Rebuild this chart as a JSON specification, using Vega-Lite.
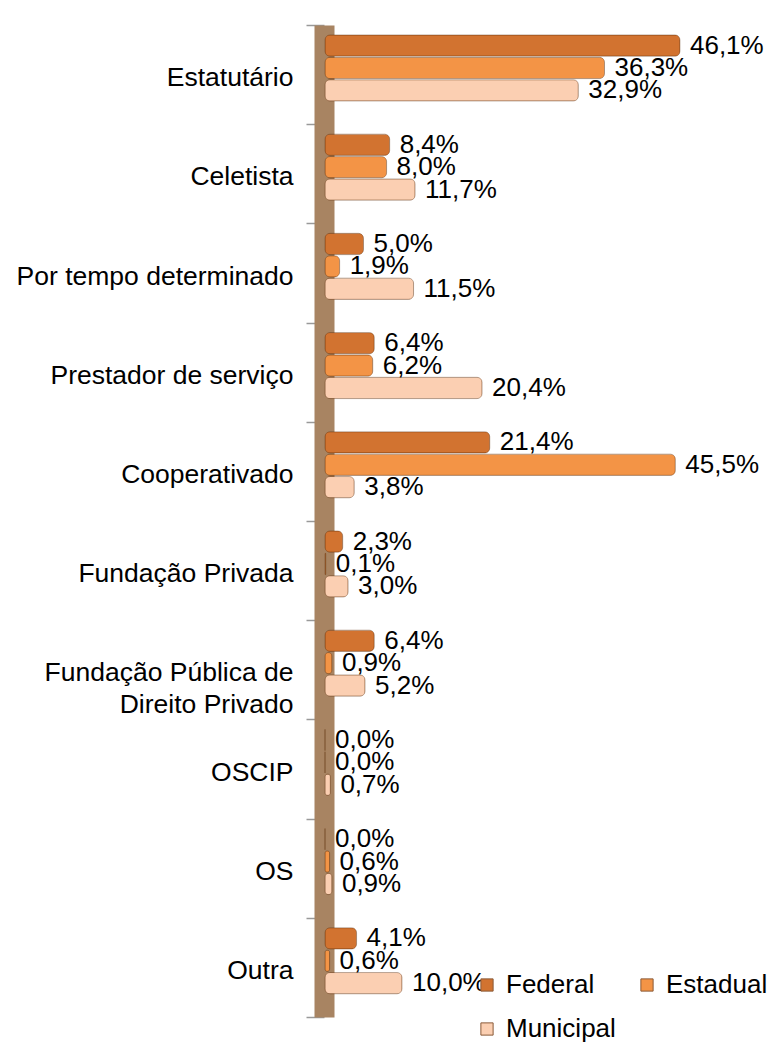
{
  "$schema": "https://vega.github.io/schema/vega-lite/v6.json",
  "width": 385,
  "height": 992,
  "autosize": {"type": "none"},
  "padding": {"left": 325, "top": 25, "right": 58, "bottom": 30},
  "background": "white",
  "config": {
    "view": {"stroke": null},
    "font": "Liberation Sans"
  },
  "data": {
    "values": [
      {"categoria": "Estatutário", "esfera": "Federal", "valor": 0.461},
      {"categoria": "Estatutário", "esfera": "Estadual", "valor": 0.363},
      {"categoria": "Estatutário", "esfera": "Municipal", "valor": 0.329},
      {"categoria": "Celetista", "esfera": "Federal", "valor": 0.084},
      {"categoria": "Celetista", "esfera": "Estadual", "valor": 0.080},
      {"categoria": "Celetista", "esfera": "Municipal", "valor": 0.117},
      {"categoria": "Por tempo determinado", "esfera": "Federal", "valor": 0.050},
      {"categoria": "Por tempo determinado", "esfera": "Estadual", "valor": 0.019},
      {"categoria": "Por tempo determinado", "esfera": "Municipal", "valor": 0.115},
      {"categoria": "Prestador de serviço", "esfera": "Federal", "valor": 0.064},
      {"categoria": "Prestador de serviço", "esfera": "Estadual", "valor": 0.062},
      {"categoria": "Prestador de serviço", "esfera": "Municipal", "valor": 0.204},
      {"categoria": "Cooperativado", "esfera": "Federal", "valor": 0.214},
      {"categoria": "Cooperativado", "esfera": "Estadual", "valor": 0.455},
      {"categoria": "Cooperativado", "esfera": "Municipal", "valor": 0.038},
      {"categoria": "Fundação Privada", "esfera": "Federal", "valor": 0.023},
      {"categoria": "Fundação Privada", "esfera": "Estadual", "valor": 0.001},
      {"categoria": "Fundação Privada", "esfera": "Municipal", "valor": 0.030},
      {"categoria": "Fundação Pública de Direito Privado", "esfera": "Federal", "valor": 0.064},
      {"categoria": "Fundação Pública de Direito Privado", "esfera": "Estadual", "valor": 0.009},
      {"categoria": "Fundação Pública de Direito Privado", "esfera": "Municipal", "valor": 0.052},
      {"categoria": "OSCIP", "esfera": "Federal", "valor": 0.000},
      {"categoria": "OSCIP", "esfera": "Estadual", "valor": 0.000},
      {"categoria": "OSCIP", "esfera": "Municipal", "valor": 0.007},
      {"categoria": "OS", "esfera": "Federal", "valor": 0.000},
      {"categoria": "OS", "esfera": "Estadual", "valor": 0.006},
      {"categoria": "OS", "esfera": "Municipal", "valor": 0.009},
      {"categoria": "Outra", "esfera": "Federal", "valor": 0.041},
      {"categoria": "Outra", "esfera": "Estadual", "valor": 0.006},
      {"categoria": "Outra", "esfera": "Municipal", "valor": 0.100}
    ]
  },
  "encoding": {
    "y": {
      "field": "categoria", "type": "nominal", "sort": null,
      "scale": {"paddingInner": 0, "paddingOuter": 0},
      "axis": {
        "title": null, "offset": 1, "domainColor": "#A88462", "domainWidth": 20,
        "tickColor": "#999999", "tickSize": 18, "tickWidth": 1.5, "tickBand": "extent",
        "labelFontSize": 26.5, "labelColor": "black", "labelPadding": 13, "labelLimit": 0,
        "labelOffset": 3, "labelLineHeight": 32,
        "labelExpr": "datum.value == 'Fundação Pública de Direito Privado' ? ['Fundação Pública de', 'Direito Privado'] : datum.value"
      }
    },
    "yOffset": {"field": "esfera", "type": "nominal", "sort": ["Federal", "Estadual", "Municipal"],
      "scale": {"paddingInner": 0.05, "paddingOuter": 0.74, "align": 0.3}},
    "x": {"field": "valor", "type": "quantitative", "scale": {"domain": [0, 0.5]}, "axis": null}
  },
  "layer": [
    {
      "mark": {"type": "bar", "cornerRadius": 5, "stroke": "#5a2a08", "strokeOpacity": 0.35, "strokeWidth": 1},
      "encoding": {
        "color": {
          "field": "esfera", "type": "nominal", "sort": ["Federal", "Estadual", "Municipal"],
          "scale": {
            "domain": ["Federal", "Estadual", "Municipal"],
            "range": ["#D27330", "#F39446", "#FBCFB2"]
          },
          "legend": {
            "title": null, "orient": "none", "legendX": 149, "legendY": 947,
            "direction": "horizontal", "columns": 2, "columnPadding": 18, "rowPadding": 18,
            "labelFontSize": 26, "labelColor": "black", "symbolType": "square",
            "symbolSize": 150, "labelOffset": 6, "symbolStrokeWidth": 1, "symbolStrokeColor": "#8a5a38"
          }
        }
      }
    },
    {
      "mark": {"type": "text", "align": "left", "baseline": "middle", "dx": 10, "fontSize": 26, "color": "black",
        "text": {"expr": "replace(format(datum.valor, '.1%'), '.', ',')"}}
    }
  ]
}
